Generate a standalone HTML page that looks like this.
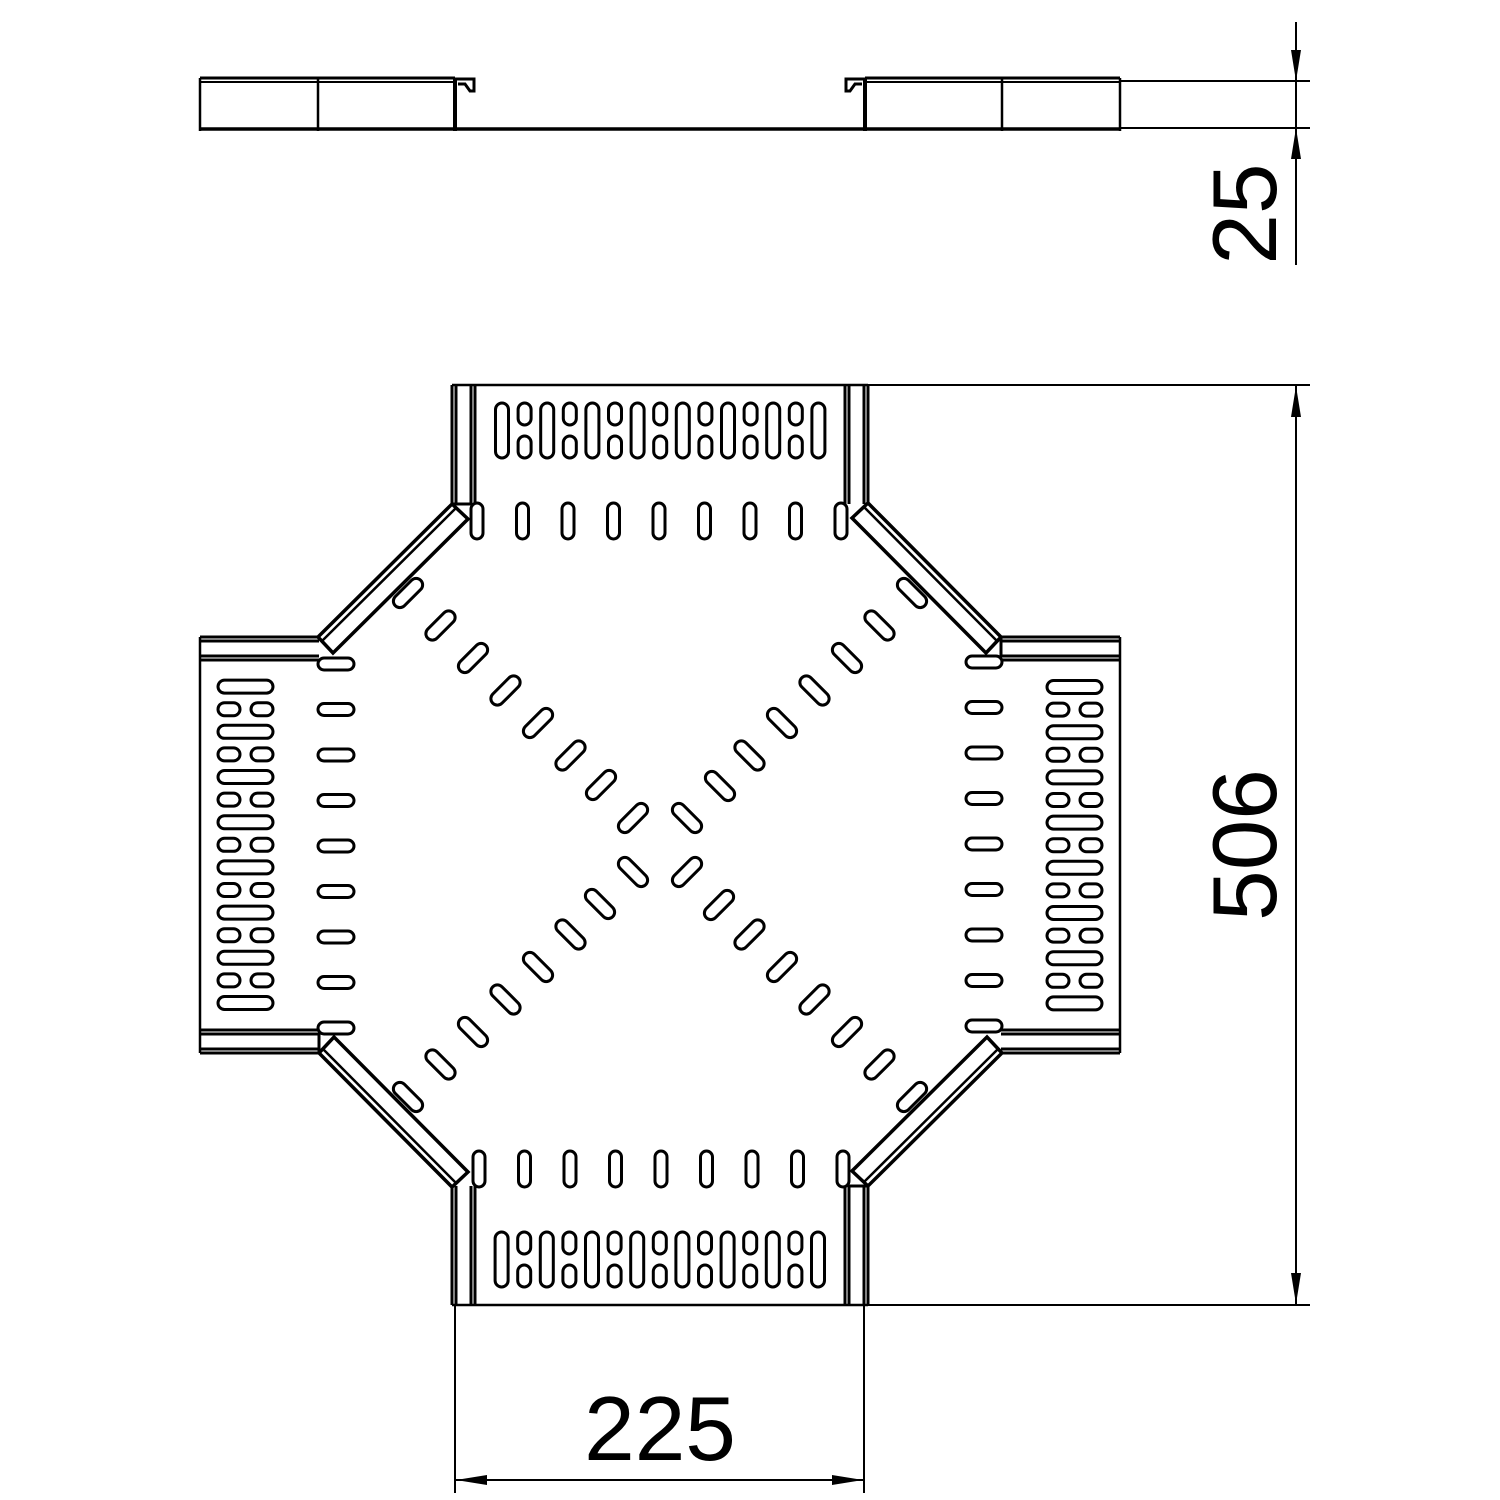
<!DOCTYPE html>
<html><head><meta charset="utf-8"><style>html,body{margin:0;padding:0;background:#fff}svg{display:block}</style></head>
<body>
<svg width="1500" height="1500" viewBox="0 0 1500 1500" xmlns="http://www.w3.org/2000/svg">
<defs>
<g id="arm" fill="none" stroke="#000">
  <g stroke-width="3">
    <line x1="452" y1="385" x2="452" y2="504"/>
    <line x1="456" y1="385" x2="456" y2="504"/>
    <line x1="471" y1="385" x2="471" y2="504"/>
    <line x1="475" y1="385" x2="475" y2="504"/>
    <line x1="845" y1="385" x2="845" y2="504"/>
    <line x1="849" y1="385" x2="849" y2="504"/>
    <line x1="864" y1="385" x2="864" y2="504"/>
    <line x1="868" y1="385" x2="868" y2="504"/>
    <line x1="452" y1="504" x2="472" y2="504"/>
  </g>
  <line x1="452" y1="385" x2="868" y2="385" stroke-width="2.5"/>
  <polygon points="452,504 468,519 333,653 318,637" stroke-width="3.5"/>
  <line x1="456" y1="508" x2="322" y2="641" stroke-width="2.5"/>
  <g stroke-width="3">
    <rect x="495.5" y="403" width="13" height="55" rx="6.5"/>
    <rect x="540.7" y="403" width="13" height="55" rx="6.5"/>
    <rect x="585.9" y="403" width="13" height="55" rx="6.5"/>
    <rect x="631.1" y="403" width="13" height="55" rx="6.5"/>
    <rect x="676.3" y="403" width="13" height="55" rx="6.5"/>
    <rect x="721.5" y="403" width="13" height="55" rx="6.5"/>
    <rect x="766.7" y="403" width="13" height="55" rx="6.5"/>
    <rect x="811.9" y="403" width="13" height="55" rx="6.5"/>
    <rect x="518.1" y="403" width="13" height="22" rx="6.5"/><rect x="518.1" y="436" width="13" height="22" rx="6.5"/>
    <rect x="563.3" y="403" width="13" height="22" rx="6.5"/><rect x="563.3" y="436" width="13" height="22" rx="6.5"/>
    <rect x="608.5" y="403" width="13" height="22" rx="6.5"/><rect x="608.5" y="436" width="13" height="22" rx="6.5"/>
    <rect x="653.7" y="403" width="13" height="22" rx="6.5"/><rect x="653.7" y="436" width="13" height="22" rx="6.5"/>
    <rect x="698.9" y="403" width="13" height="22" rx="6.5"/><rect x="698.9" y="436" width="13" height="22" rx="6.5"/>
    <rect x="744.1" y="403" width="13" height="22" rx="6.5"/><rect x="744.1" y="436" width="13" height="22" rx="6.5"/>
    <rect x="789.3" y="403" width="13" height="22" rx="6.5"/><rect x="789.3" y="436" width="13" height="22" rx="6.5"/>
    <rect x="471" y="503" width="12" height="36" rx="6"/>
    <rect x="516.5" y="503" width="12" height="36" rx="6"/>
    <rect x="562" y="503" width="12" height="36" rx="6"/>
    <rect x="607.5" y="503" width="12" height="36" rx="6"/>
    <rect x="653" y="503" width="12" height="36" rx="6"/>
    <rect x="698.5" y="503" width="12" height="36" rx="6"/>
    <rect x="744" y="503" width="12" height="36" rx="6"/>
    <rect x="789.5" y="503" width="12" height="36" rx="6"/>
    <rect x="835" y="503" width="12" height="36" rx="6"/>
    <g transform="translate(408,593) rotate(-45)"><rect x="-18" y="-6.5" width="36" height="13" rx="6.5"/></g>
    <g transform="translate(440.5,625.5) rotate(-45)"><rect x="-18" y="-6.5" width="36" height="13" rx="6.5"/></g>
    <g transform="translate(473,658) rotate(-45)"><rect x="-18" y="-6.5" width="36" height="13" rx="6.5"/></g>
    <g transform="translate(505.5,690.5) rotate(-45)"><rect x="-18" y="-6.5" width="36" height="13" rx="6.5"/></g>
    <g transform="translate(538,723) rotate(-45)"><rect x="-18" y="-6.5" width="36" height="13" rx="6.5"/></g>
    <g transform="translate(570.5,755.5) rotate(-45)"><rect x="-18" y="-6.5" width="36" height="13" rx="6.5"/></g>
    <g transform="translate(601,785) rotate(-45)"><rect x="-18" y="-6.5" width="36" height="13" rx="6.5"/></g>
    <g transform="translate(633,818) rotate(-45)"><rect x="-18" y="-6.5" width="36" height="13" rx="6.5"/></g>
  </g>
</g>
</defs>

<use href="#arm"/>
<use href="#arm" transform="rotate(90 660 845)"/>
<use href="#arm" transform="rotate(180 660 845)"/>
<use href="#arm" transform="rotate(270 660 845)"/>

<g fill="none" stroke="#000">
  <line x1="200" y1="78" x2="455" y2="78" stroke-width="3"/>
  <line x1="200" y1="82" x2="455" y2="82" stroke-width="2"/>
  <line x1="200" y1="78" x2="200" y2="131" stroke-width="2.5"/>
  <line x1="318" y1="78" x2="318" y2="131" stroke-width="2.5"/>
  <line x1="200" y1="129" x2="865" y2="129" stroke-width="3.5"/>
  <line x1="455" y1="78" x2="455" y2="131" stroke-width="4"/>
  <path d="M455,79 H474 V91 H470 L465,84 H458" stroke-width="3"/>
  <line x1="865" y1="78" x2="1120" y2="78" stroke-width="3"/>
  <line x1="865" y1="82" x2="1120" y2="82" stroke-width="2"/>
  <line x1="1120" y1="78" x2="1120" y2="131" stroke-width="2.5"/>
  <line x1="1002" y1="78" x2="1002" y2="131" stroke-width="2.5"/>
  <line x1="865" y1="129" x2="1120" y2="129" stroke-width="3.5"/>
  <line x1="865" y1="78" x2="865" y2="131" stroke-width="4"/>
  <path d="M865,79 H846 V91 H850 L855,84 H862" stroke-width="3"/>
</g>

<g stroke="#000" stroke-width="2" fill="none">
  <line x1="1120" y1="81" x2="1310" y2="81"/>
  <line x1="1120" y1="128" x2="1310" y2="128"/>
  <line x1="1296" y1="22" x2="1296" y2="265"/>
  <line x1="868" y1="385" x2="1310" y2="385"/>
  <line x1="868" y1="1305" x2="1310" y2="1305"/>
  <line x1="1296" y1="385" x2="1296" y2="1305"/>
  <line x1="455" y1="1305" x2="455" y2="1493"/>
  <line x1="864" y1="1305" x2="864" y2="1493"/>
  <line x1="455" y1="1480" x2="864" y2="1480"/>
</g>
<g fill="#000">
  <polygon points="1296,81 1291,50 1301,50"/>
  <polygon points="1296,128 1291,159 1301,159"/>
  <polygon points="1296,386 1291,417 1301,417"/>
  <polygon points="1296,1304 1291,1273 1301,1273"/>
  <polygon points="456,1480 487,1475 487,1485"/>
  <polygon points="863,1480 832,1475 832,1485"/>
</g>
<g font-family="Liberation Sans, sans-serif" font-size="91" fill="#000" text-anchor="middle">
  <text x="660" y="1460">225</text>
  <text transform="translate(1276,845) rotate(-90)">506</text>
  <text transform="translate(1276,214) rotate(-90)">25</text>
</g>
</svg>
</body></html>
